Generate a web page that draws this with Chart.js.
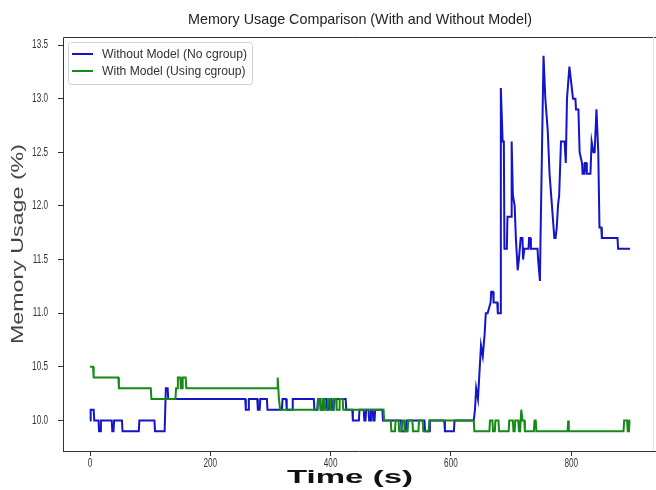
<!DOCTYPE html>
<html>
<head>
<meta charset="utf-8">
<script src="https://cdn.jsdelivr.net/npm/chart.js@4"></script>
<style>
  body { margin: 0; background: #fff; }
  #wrap { width: 656px; height: 490px; }
</style>
</head>
<body>
<div id="wrap"><canvas id="memChart" width="656" height="490"></canvas></div>
<script>
// values: time (s) and memory usage (%) at each vertex
var noModelTime = [0, 1, 6, 7, 14, 15, 17, 18, 36, 37, 39, 40, 53, 54, 81, 82, 107, 108, 124, 126, 129, 130,
    258, 259, 263, 264, 278, 279, 282, 283, 294, 295, 319, 320, 326, 327, 336, 337, 372, 373, 378, 379,
    383, 384, 388, 389, 393, 394, 397, 398, 401, 402, 405, 406, 425, 426, 436, 437, 447, 448, 455, 456,
    458, 459, 463, 464, 466, 467, 470, 471, 473, 474, 486, 487, 517, 518, 525, 526, 556, 557, 564, 565,
    589, 590, 605, 606, 638, 640, 642, 645, 647, 650, 653, 656, 658, 661, 666, 667, 670, 671, 677, 678,
    682, 683, 686, 688, 689, 693, 694, 700, 701, 703, 706, 708, 710, 711, 713, 716, 719, 720, 722, 729,
    730, 732, 733, 744, 745, 748, 749, 754, 757, 761, 764, 768, 772, 774, 776, 778, 780, 783, 789, 791,
    793, 797, 803, 807, 808, 812, 814, 818, 819, 822, 823, 825, 826, 832, 834, 837, 839, 842, 845, 847,
    850, 851, 877, 878, 898];
var noModelMem = [10.0, 10.1, 10.1, 10.0, 10.0, 9.9, 9.9, 10.0, 10.0, 9.9, 9.9, 10.0, 10.0, 9.9, 9.9, 10.0, 10.0, 9.9, 9.9, 10.3, 10.3, 10.2,
    10.2, 10.1, 10.1, 10.2, 10.2, 10.1, 10.1, 10.2, 10.2, 10.1, 10.1, 10.2, 10.2, 10.1, 10.1, 10.2, 10.2, 10.1, 10.1, 10.2,
    10.2, 10.1, 10.1, 10.2, 10.2, 10.1, 10.1, 10.2, 10.2, 10.1, 10.1, 10.2, 10.2, 10.1, 10.1, 10.0, 10.0, 10.1, 10.1, 10.0,
    10.0, 10.1, 10.1, 10.0, 10.0, 10.1, 10.1, 10.0, 10.0, 10.1, 10.1, 10.0, 10.0, 9.9, 9.9, 10.0, 10.0, 9.9, 9.9, 10.0,
    10.0, 9.9, 9.9, 10.0, 10.0, 10.1, 10.3, 10.2, 10.4, 10.7, 10.6, 10.8, 11.0, 11.0, 11.1, 11.2, 11.2, 11.1, 11.1, 11.0,
    11.0, 13.1, 12.6, 12.6, 11.6, 11.6, 11.9, 11.9, 12.6, 12.1, 12.0, 11.7, 11.5, 11.4, 11.5, 11.7, 11.7, 11.5, 11.6, 11.6,
    11.7, 11.7, 11.6, 11.6, 11.5, 11.3, 11.7, 13.4, 13.0, 12.7, 12.3, 12.0, 11.7, 11.7, 11.8, 12.0, 12.1, 12.6, 12.6, 12.4,
    13.0, 13.3, 13.0, 13.0, 12.9, 12.9, 12.5, 12.4, 12.3, 12.3, 12.4, 12.4, 12.3, 12.3, 12.6, 12.5, 12.5, 12.9, 12.5, 11.8,
    11.8, 11.7, 11.7, 11.6, 11.6];

var withModelTime = [0, 5, 6, 47, 48, 101, 102, 142, 143, 145, 146, 150, 151, 153, 154, 159, 160, 311, 312, 314, 316,
    378, 379, 382, 383, 386, 387, 390, 391, 395, 396, 399, 400, 404, 405, 409, 410, 414, 415, 420, 421, 488, 489,
    500, 501, 507, 508, 513, 514, 518, 519, 522, 523, 528, 529, 536, 537, 546, 547, 553, 554, 563, 564, 638, 639,
    664, 665, 669, 670, 673, 674, 679, 680, 696, 697, 703, 704, 706, 707, 712, 713, 715, 717, 719, 722, 723,
    738, 739, 741, 742, 794, 795, 796, 887, 888, 893, 894, 896, 897, 898];
var withModelMem = [10.5, 10.5, 10.4, 10.4, 10.3, 10.3, 10.2, 10.2, 10.3, 10.3, 10.4, 10.4, 10.3, 10.3, 10.4, 10.4, 10.3, 10.3, 10.4, 10.2, 10.1,
    10.1, 10.2, 10.2, 10.1, 10.1, 10.2, 10.2, 10.1, 10.1, 10.2, 10.2, 10.1, 10.1, 10.2, 10.2, 10.1, 10.1, 10.2, 10.2, 10.1, 10.1, 10.0,
    10.0, 9.9, 9.9, 10.0, 10.0, 9.9, 9.9, 10.0, 10.0, 9.9, 9.9, 10.0, 10.0, 9.9, 9.9, 10.0, 10.0, 9.9, 9.9, 10.0, 10.0, 9.9,
    9.9, 10.0, 10.0, 9.9, 9.9, 10.0, 10.0, 9.9, 9.9, 10.0, 10.0, 9.9, 9.9, 10.0, 10.0, 9.9, 9.9, 10.1, 10.0, 10.0, 9.9,
    9.9, 10.0, 10.0, 9.9, 9.9, 10.0, 9.9, 9.9, 10.0, 10.0, 9.9, 9.9, 10.0, 10.0];

var seriesLabels = ['Without Model (No cgroup)', 'With Model (Using cgroup)'];
var xTicks = [0, 200, 400, 600, 800];
var yTicks = [10.0, 10.5, 11.0, 11.5, 12.0, 12.5, 13.0, 13.5];

var chartTitle = 'Memory Usage Comparison (With and Without Model)';
var xTitle = 'Time (s)';
var yTitle = 'Memory Usage (%)';

function toPoints(xs, ys) {
    return xs.map(function (x, i) { return { x: x, y: ys[i] }; });
}

var sans = '"Liberation Sans", sans-serif';

// draw a text squeezed or stretched to a measured width
function fitText(ctx, text, x, y, font, width, angle, color) {
    ctx.save();
    ctx.font = font;
    var w = ctx.measureText(text).width;
    ctx.translate(x, y);
    if (angle) ctx.rotate(angle);
    ctx.scale(width / w, 1);
    ctx.fillStyle = color;
    ctx.textAlign = 'center';
    ctx.textBaseline = 'middle';
    ctx.fillText(text, 0, 0);
    ctx.restore();
}

// tick labels in the picture are narrow, so they are drawn squeezed at the scale's own positions
function narrowLabel(ctx, text, x, y, align) {
    ctx.save();
    ctx.font = '12px ' + sans;
    ctx.fillStyle = '#333';
    ctx.textAlign = align;
    ctx.textBaseline = 'middle';
    ctx.translate(x, y);
    ctx.scale(0.68, 1);
    ctx.fillText(text, 0, 0);
    ctx.restore();
}

var decorations = {
    id: 'decorations',
    afterDraw: function (chart) {
        var ctx = chart.ctx;
        var a = chart.chartArea;
        var xs = chart.scales.x, ys = chart.scales.y;

        // frame
        ctx.save();
        ctx.strokeStyle = '#333';
        ctx.lineWidth = 1;
        ctx.beginPath();
        ctx.moveTo(a.left + 0.5, a.bottom + 0.5);
        ctx.lineTo(a.left + 0.5, a.top + 0.5);
        ctx.lineTo(a.right, a.top + 0.5);
        ctx.moveTo(a.left, a.bottom + 0.5);
        ctx.lineTo(a.right, a.bottom + 0.5);
        ctx.stroke();
        ctx.strokeStyle = '#e4e4e4';
        ctx.beginPath();
        ctx.moveTo(653.5, a.top);
        ctx.lineTo(653.5, a.bottom);
        ctx.stroke();
        ctx.restore();

        yTicks.forEach(function (v) {
            narrowLabel(ctx, v.toFixed(1), a.left - 15, ys.getPixelForValue(v), 'right');
        });
        xTicks.forEach(function (v) {
            narrowLabel(ctx, String(v), xs.getPixelForValue(v), a.bottom + 13, 'center');
        });

        fitText(ctx, chartTitle, 360, 20, '15px ' + sans, 344, 0, '#222');
        fitText(ctx, yTitle, 18, 244, '17px ' + sans, 200, -Math.PI / 2, '#444');
        fitText(ctx, xTitle, 350, 478, 'bold 18px ' + sans, 126, 0, '#111');

        // legend
        ctx.save();
        ctx.fillStyle = 'rgba(255,255,255,0.85)';
        ctx.strokeStyle = '#d0d0d0';
        ctx.lineWidth = 1;
        ctx.beginPath();
        ctx.roundRect(68.5, 42.5, 184, 42, 3);
        ctx.fill();
        ctx.stroke();
        ctx.restore();

        ctx.save();
        ctx.font = '13px ' + sans;
        var sx = 145 / ctx.measureText(seriesLabels[0]).width;
        ctx.restore();
        chart.data.datasets.forEach(function (ds, i) {
            var ly = 54 + i * 17;
            ctx.save();
            ctx.strokeStyle = ds.borderColor;
            ctx.lineWidth = 2;
            ctx.beginPath();
            ctx.moveTo(72, ly);
            ctx.lineTo(93, ly);
            ctx.stroke();
            ctx.font = '13px ' + sans;
            ctx.fillStyle = '#333';
            ctx.textBaseline = 'middle';
            ctx.translate(102, ly);
            ctx.scale(sx, 1);
            ctx.fillText(ds.label, 0, 0);
            ctx.restore();
        });
    }
};

new Chart(document.getElementById('memChart'), {
    type: 'line',
    data: {
        datasets: [
            {
                label: seriesLabels[0],
                data: toPoints(noModelTime, noModelMem),
                borderColor: '#1414c8',
                borderWidth: 2,
                pointRadius: 0,
                tension: 0,
                fill: false,
                order: 1
            },
            {
                label: seriesLabels[1],
                data: toPoints(withModelTime, withModelMem),
                borderColor: '#168a16',
                borderWidth: 2,
                pointRadius: 0,
                tension: 0,
                fill: false,
                order: 0
            }
        ]
    },
    options: {
        responsive: false,
        animation: false,
        devicePixelRatio: 1,
        layout: { padding: { top: 37, right: 0, left: 0, bottom: 0 } },
        plugins: {
            legend: { display: false },
            title: { display: false },
            tooltip: { enabled: false }
        },
        scales: {
            x: {
                type: 'linear',
                min: -45,
                max: 941,
                afterFit: function (s) { s.height = 39; },
                afterBuildTicks: function (s) { s.ticks = xTicks.map(function (v) { return { value: v }; }); },
                grid: { display: true, drawOnChartArea: false, tickLength: 5, color: '#333' },
                border: { display: false },
                ticks: { display: false }
            },
            y: {
                min: 9.715,
                max: 13.575,
                afterFit: function (s) { s.width = 63; },
                afterBuildTicks: function (s) { s.ticks = yTicks.map(function (v) { return { value: v }; }); },
                grid: { display: true, drawOnChartArea: false, tickLength: 5, color: '#333' },
                border: { display: false },
                ticks: { display: false }
            }
        }
    },
    plugins: [decorations]
});
</script>
</body>
</html>
